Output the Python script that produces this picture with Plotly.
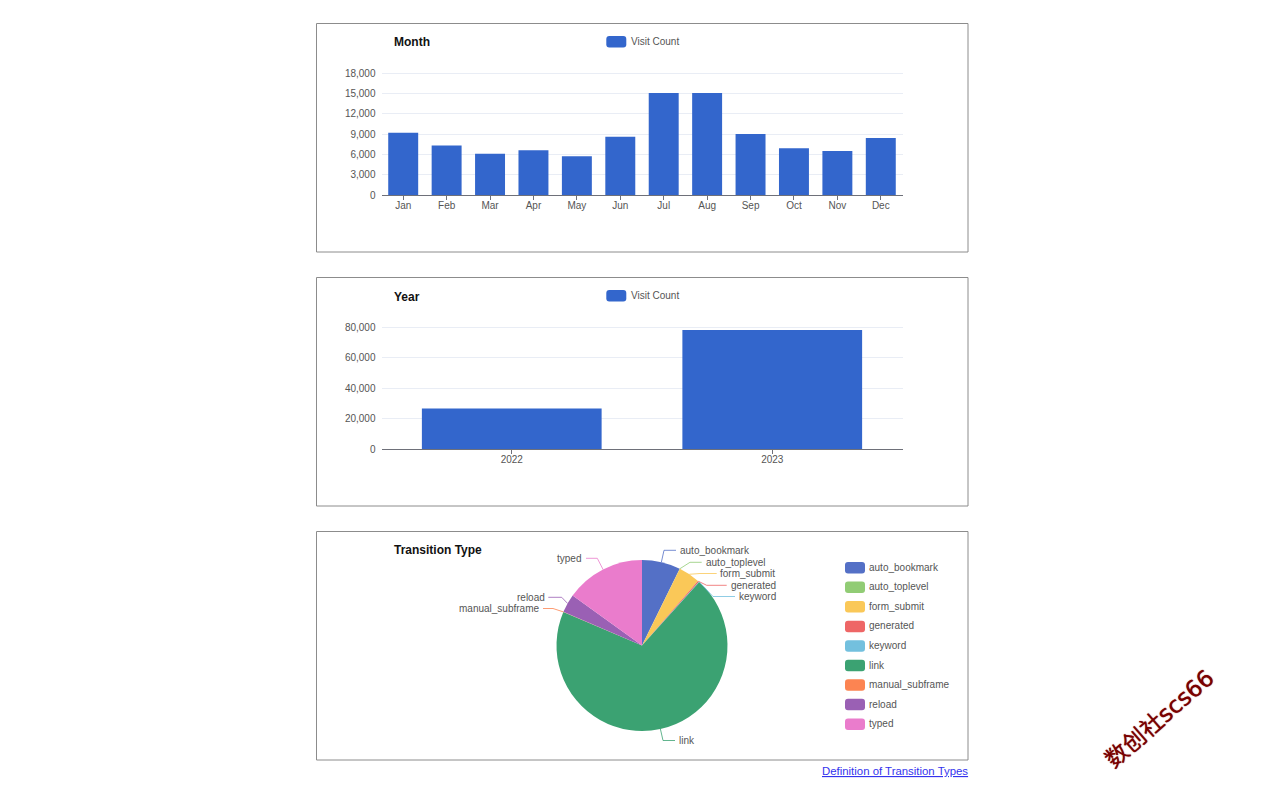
import math
import plotly.graph_objects as go

months = ["Jan", "Feb", "Mar", "Apr", "May", "Jun", "Jul", "Aug", "Sep", "Oct", "Nov", "Dec"]
month_visits = [9200, 7300, 6100, 6600, 5700, 8600, 15050, 15050, 9000, 6900, 6500, 8400]
month_ticks = [0, 3000, 6000, 9000, 12000, 15000, 18000]

years = ["2022", "2023"]
year_visits = [26500, 78000]
year_ticks = [0, 20000, 40000, 60000, 80000]

transitions = ["auto_bookmark", "auto_toplevel", "form_submit", "generated", "keyword",
               "link", "manual_subframe", "reload", "typed"]
transition_visits = [7600, 30, 4250, 260, 70, 72900, 30, 3650, 15750]
transition_colors = ["#5470c6", "#91cc75", "#fac858", "#ee6666", "#73c0de",
                     "#3ba272", "#fc8452", "#9a60b4", "#ea7ccc"]

FONT = "Liberation Sans"
TEXT = "#555555"
BLUE = "#3366cc"
LABEL_SIZE = 10
TITLE_SIZE = 12

# page has an 8px body margin, everything below is in page pixels
W, H = 1264, 784


def px(x):
    return (x - 8) / W


def py(y):
    return 1 - (y - 8) / H


def rounded(x0, y0, x1, y1, r=3):
    return (f"M{px(x0 + r)},{py(y0)} L{px(x1 - r)},{py(y0)} Q{px(x1)},{py(y0)} {px(x1)},{py(y0 + r)} "
            f"L{px(x1)},{py(y1 - r)} Q{px(x1)},{py(y1)} {px(x1 - r)},{py(y1)} "
            f"L{px(x0 + r)},{py(y1)} Q{px(x0)},{py(y1)} {px(x0)},{py(y1 - r)} "
            f"L{px(x0)},{py(y0 + r)} Q{px(x0)},{py(y0)} {px(x0 + r)},{py(y0)} Z")


def label(x, y, text, anchor="left", size=LABEL_SIZE, color=TEXT, **kw):
    fig.add_annotation(x=px(x), y=py(y), xref="paper", yref="paper", text=text, showarrow=False,
                       xanchor=anchor, yanchor="middle", font=dict(family=FONT, size=size, color=color),
                       borderpad=0, **kw)


def swatch(x0, y0, color):
    fig.add_shape(type="path", path=rounded(x0, y0, x0 + 20, y0 + 11.5), xref="paper", yref="paper",
                  fillcolor=color, line=dict(width=0))


fig = go.Figure()

fig.add_trace(go.Bar(x=months, y=month_visits, marker=dict(color=BLUE, line=dict(width=0)),
                     xaxis="x", yaxis="y", showlegend=False))
fig.add_trace(go.Bar(x=years, y=year_visits, marker=dict(color=BLUE, line=dict(width=0)),
                     xaxis="x2", yaxis="y2", showlegend=False))
fig.add_trace(go.Pie(labels=transitions, values=transition_visits, sort=False, direction="clockwise",
                     rotation=0, textinfo="none", showlegend=False,
                     marker=dict(colors=transition_colors, line=dict(width=0)),
                     domain=dict(x=[px(556.5), px(727.5)], y=[py(731), py(560)])))

xaxis_style = dict(type="category", showgrid=False, showline=True, linecolor="#6E7079", linewidth=1,
                   ticks="outside", ticklen=4, tickcolor="#6E7079", tickwidth=1, zeroline=False,
                   automargin=False, ticklabelstandoff=-3,
                   tickfont=dict(family=FONT, size=LABEL_SIZE, color=TEXT))
yaxis_style = dict(showgrid=True, gridcolor="#E9EDF5", gridwidth=1, showline=False, ticks="",
                   zeroline=False, automargin=False, tickformat=",",
                   tickfont=dict(family=FONT, size=LABEL_SIZE, color=TEXT), ticklabelstandoff=5)

# two spare pixels above the top tick, plotly drops a gridline sitting on the axis end
fig.update_layout(
    width=W, height=H, margin=dict(l=0, r=0, t=0, b=0), paper_bgcolor="white", plot_bgcolor="white",
    bargap=0.31, showlegend=False, font=dict(family=FONT),
    xaxis=dict(domain=[px(381.5), px(902.5)], anchor="y", **xaxis_style),
    yaxis=dict(domain=[py(195), py(71)], anchor="x", range=[0, month_ticks[-1] * 124 / 122],
               tickvals=month_ticks, **yaxis_style),
    xaxis2=dict(domain=[px(381.5), px(902.5)], anchor="y2", **xaxis_style),
    yaxis2=dict(domain=[py(449), py(325)], anchor="x2", range=[0, year_ticks[-1] * 124 / 122],
                tickvals=year_ticks, **yaxis_style),
)

# panel frames
for top in (23.5, 277.5, 531.5):
    fig.add_shape(type="rect", x0=px(316.5), x1=px(968), y0=py(top), y1=py(top + 228.5), xref="paper",
                  yref="paper", line=dict(color="#8c8c8c", width=1), layer="below")

# titles and bar legends
label(392.5, 42.5, "<b>Month</b>", size=TITLE_SIZE, color="#111111")
label(392.5, 296.5, "<b>Year</b>", size=TITLE_SIZE, color="#111111")
label(392.5, 550, "<b>Transition Type</b>", size=TITLE_SIZE, color="#111111")
for y0, yt in ((36, 41.5), (290, 295)):
    swatch(606.3, y0, BLUE)
    label(629.5, yt, "Visit Count")

# pie legend
for i, (name, color) in enumerate(zip(transitions, transition_colors)):
    swatch(845, 562 + i * 19.55, color)
    label(867.5, 567.3 + i * 19.55, name)

# pie labels with elbow leader lines
cx, cy, r = 642, 645.5, 85.5
elbows = {
    "auto_bookmark": (664, 550.3, 676, 678.5, "left"),
    "auto_toplevel": (690, 562.3, 701.7, 704.5, "left"),
    "form_submit": (700, 573.5, 716.7, 719.5, "left"),
    "generated": (706.7, 585.3, 726.7, 729.5, "left"),
    "keyword": (713, 596.5, 735, 737.5, "left"),
    "link": (663, 740.5, 675, 677.5, "left"),
    "manual_subframe": (553, 608.5, 543, 540, "right"),
    "reload": (561.7, 597.3, 548.3, 545.5, "right"),
    "typed": (597.3, 558.3, 586, 582, "right"),
}
total = sum(transition_visits)
running = 0
for name, value, color in zip(transitions, transition_visits, transition_colors):
    angle = 2 * math.pi * (running + value / 2) / total
    running += value
    ex, ey = cx + r * math.sin(angle), cy - r * math.cos(angle)
    mx, my, endx, tx, anchor = elbows[name]
    fig.add_shape(type="path", xref="paper", yref="paper",
                  path=f"M{px(ex)},{py(ey)} L{px(mx)},{py(my)} L{px(endx)},{py(my)}",
                  line=dict(color=color, width=0.8), fillcolor="rgba(0,0,0,0)")
    label(tx, my, name, anchor=anchor)

label(969, 771, "<u>Definition of Transition Types</u>", anchor="right", size=11.4, color="#3333ee")

# watermark
fig.add_annotation(x=px(1159), y=py(719), xref="paper", yref="paper", text="数创社scs66",
                   showarrow=False, textangle=-41, xanchor="center", yanchor="middle",
                   font=dict(family="DejaVu Sans, Noto Sans CJK SC", size=23, color="#7a0000",
                             shadow="0 0 1px #7a0000"))

fig.write_html("out.html")
